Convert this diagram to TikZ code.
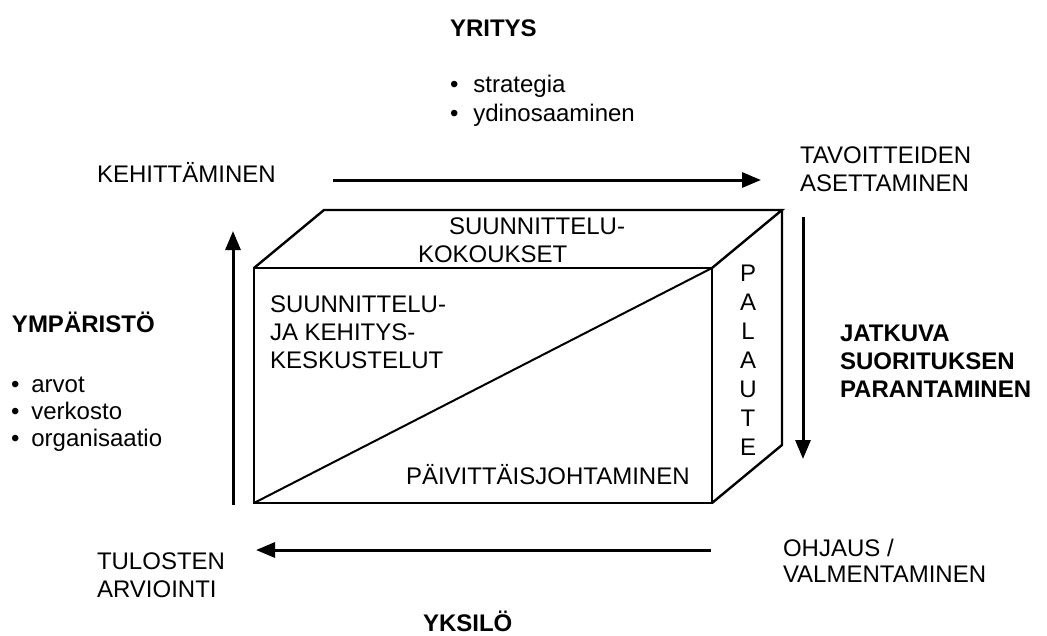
\documentclass[tikz,border=0pt]{standalone}
\usepackage{fontspec}
\setmainfont{Liberation Sans}
\usetikzlibrary{arrows.meta}
\begin{document}
\begin{tikzpicture}[x=1pt,y=-1pt,
  every node/.style={inner sep=0pt,outer sep=0pt,font=\fontsize{24}{28}\selectfont},
  lbl/.style={anchor=base west,align=left},
  bld/.style={anchor=base west,align=left,font=\fontsize{24}{28}\selectfont\bfseries},
  edge/.style={line width=2.4pt,line join=miter},
  flow/.style={line width=3pt,-{Triangle[length=19pt,width=15pt]}}]
\useasboundingbox (0,0) rectangle (1047,635);
% box corners
\coordinate (A) at (254,268);
\coordinate (B) at (712,268);
\coordinate (C) at (712,503);
\coordinate (D) at (254,503);
\coordinate (E) at (324,210);
\coordinate (F) at (782,210);
\coordinate (G) at (782,445);
\draw[edge] (A) -- (B) -- (C) -- (D) -- cycle;
\draw[edge] (A) -- (E) -- (F) -- (B);
\draw[edge] (F) -- (G) -- (C);
\draw[line width=2pt] (D) -- (B);
% texts (multi-line nodes: base = baseline of last line)
\node[bld] (yritys) at (450,36) {YRITYS};
\node[lbl] (yb1) at (450,92) {\textbullet\hspace{15pt}strategia};
\node[lbl] (yb2) at (450,121) {\textbullet\hspace{15pt}ydinosaaminen};
\node[lbl] (kehit) at (97,182) {KEHITTÄMINEN};
\node[lbl] (tavo) at (800,191) {TAVOITTEIDEN\\ASETTAMINEN};
\node[lbl] (suk1) at (449,234) {SUUNNITTELU-};
\node[lbl] (suk2) at (418,262) {KOKOUKSET};
\node[lbl] (sjk) at (270,368) {SUUNNITTELU-\\JA KEHITYS-\\KESKUSTELUT};
\node[lbl] (paiv) at (406,484) {PÄIVITTÄISJOHTAMINEN};
\node[anchor=base,align=center,font=\fontsize{24}{29}\selectfont] (pal) at (748,455) {P\\A\\L\\A\\U\\T\\E};
\node[bld] (ymp) at (12,332) {YMPÄRISTÖ};
\node[lbl,font=\fontsize{24}{27}\selectfont] (ympl) at (11,446) {\textbullet\hspace{12pt}arvot\\\textbullet\hspace{12pt}verkosto\\\textbullet\hspace{12pt}organisaatio};
\node[bld] (jatk) at (840,397) {JATKUVA\\SUORITUKSEN\\PARANTAMINEN};
\node[lbl] (tulo) at (97,597) {TULOSTEN\\ARVIOINTI};
\node[lbl,font=\fontsize{24}{26}\selectfont] (ohj) at (783,582) {OHJAUS /\\VALMENTAMINEN};
\node[bld] (yks) at (423,631) {YKSILÖ};
% arrows
\coordinate (t1) at (333,180);
\coordinate (t2) at (761,180);
\coordinate (r1) at (803,217);
\coordinate (r2) at (803,459);
\coordinate (b1) at (711,550);
\coordinate (b2) at (256,550);
\coordinate (l1) at (233,505);
\coordinate (l2) at (233,231);
\draw[flow] (t1) -- (t2);
\draw[flow] (r1) -- (r2);
\draw[flow] (b1) -- (b2);
\draw[flow] (l1) -- (l2);
\end{tikzpicture}
\end{document}
